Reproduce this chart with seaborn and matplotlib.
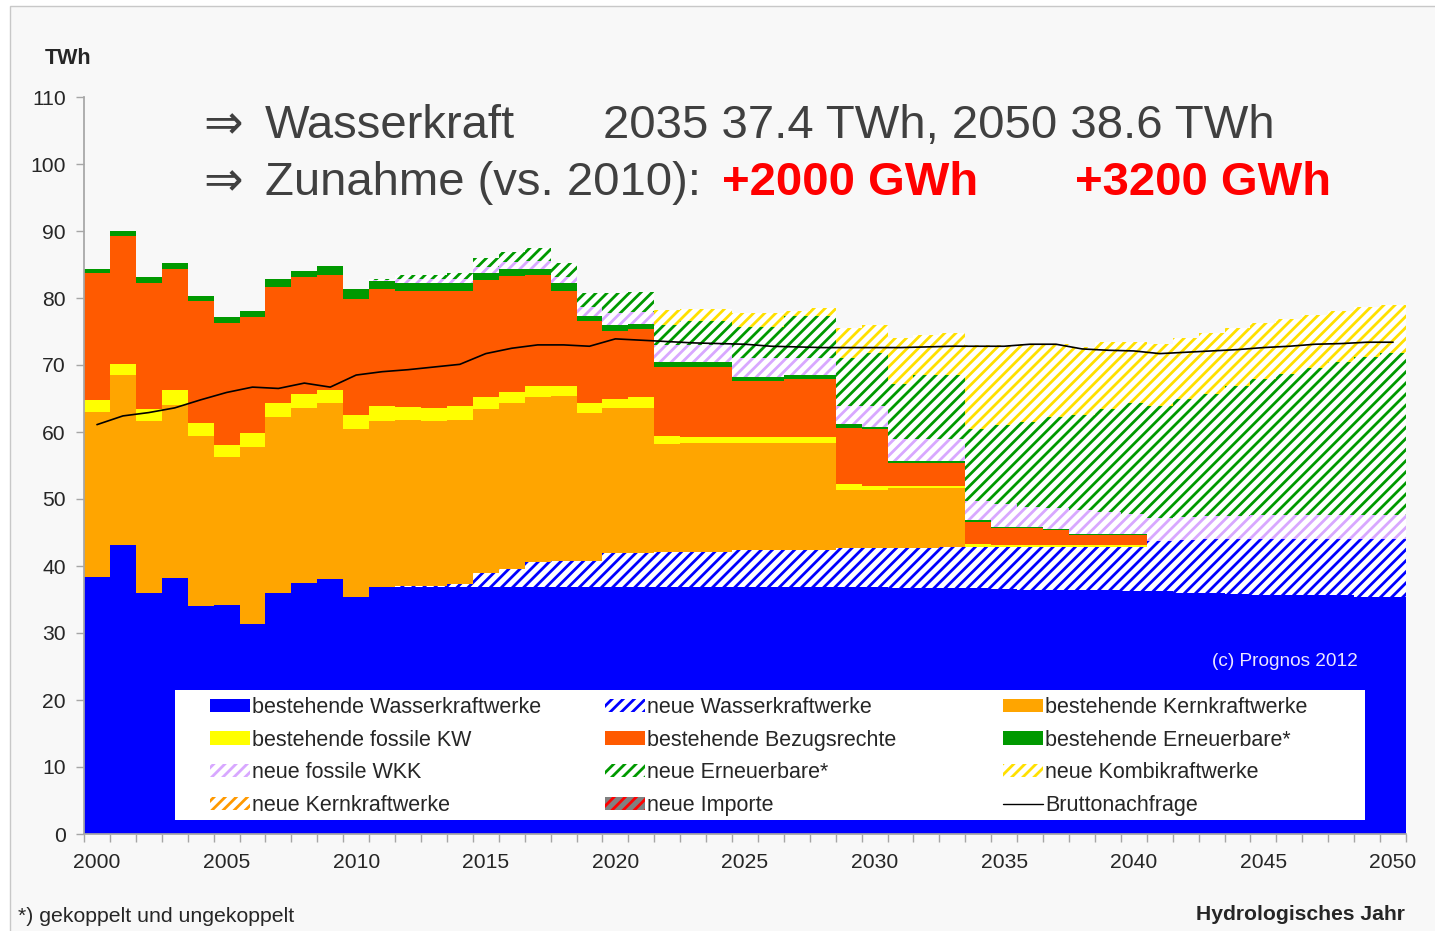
import numpy as np
import matplotlib
matplotlib.use("Agg")
import matplotlib.pyplot as plt
from matplotlib.patches import Patch, Rectangle
from matplotlib.lines import Line2D
from matplotlib.legend import Legend
import seaborn as sns

years = list(range(2000, 2051))

# TWh per hydrological year
best_wasser = [38.4, 43.2, 35.9, 38.2, 34.0, 34.2, 31.3, 35.9, 37.5, 38.1, 35.3,
               36.9, 36.9, 36.9, 36.9, 36.9, 36.9, 36.9, 36.9, 36.9, 36.9, 36.9, 36.9, 36.9, 36.9,
               36.8, 36.8, 36.8, 36.8, 36.8, 36.8,
               36.7, 36.7, 36.7, 36.7,
               36.5, 36.4, 36.4, 36.4, 36.4, 36.3,
               36.2, 35.9, 35.9, 35.8, 35.7, 35.7, 35.6, 35.6, 35.4, 35.4]
neue_wasser = [0, 0, 0, 0, 0, 0, 0, 0, 0, 0, 0, 0,
               0.1, 0.1, 0.4, 2.0, 2.7, 3.7, 3.9, 3.9, 5.0, 5.0, 5.2, 5.2, 5.2,
               5.6, 5.6, 5.6, 5.6, 5.9, 5.9, 6.0, 6.0, 6.2, 6.2,
               6.4, 6.5, 6.5, 6.5, 6.5, 6.6,
               7.6, 8.0, 8.1, 8.2, 8.3, 8.3, 8.4, 8.4, 8.6, 8.6]
best_kern = [24.6, 25.3, 25.8, 25.8, 25.4, 22.0, 26.4, 26.4, 26.1, 26.2, 25.2,
             24.8, 24.8, 24.6, 24.5, 24.5, 24.7, 24.6, 24.6, 22.0, 21.7, 21.7,
             16.1, 16.2, 16.2, 16.0, 16.0, 16.0, 16.0, 8.7, 8.7, 8.9, 8.9, 8.7,
             0, 0, 0, 0, 0, 0, 0, 0, 0, 0, 0, 0, 0, 0, 0, 0, 0]
best_fossil = [1.8, 1.7, 1.8, 2.3, 2.0, 1.9, 2.2, 2.0, 2.0, 2.0, 2.0,
               2.2, 1.9, 2.0, 2.1, 1.8, 1.7, 1.7, 1.5, 1.5, 1.3, 1.6,
               1.2, 1.0, 1.0, 0.9, 0.9, 0.9, 0.9, 0.8, 0.6, 0.4, 0.4, 0.4,
               0.4, 0.3, 0.3, 0.3, 0.2, 0.2, 0.2,
               0, 0, 0, 0, 0, 0, 0, 0, 0, 0]
best_bezug = [18.9, 19.0, 18.8, 18.0, 18.2, 18.2, 17.3, 17.4, 17.5, 17.1, 17.4,
              17.4, 17.3, 17.4, 17.1, 17.5, 17.3, 16.5, 14.2, 12.2, 10.2, 10.1,
              10.3, 10.4, 10.4, 8.3, 8.3, 8.6, 8.6, 8.4, 8.4, 3.4, 3.4, 3.4,
              3.2, 2.5, 2.5, 2.2, 1.6, 1.6, 1.6,
              0, 0, 0, 0, 0, 0, 0, 0, 0, 0]
best_ern = [0.6, 0.8, 0.9, 0.9, 0.7, 0.9, 0.9, 1.1, 1.0, 1.4, 1.4,
            1.2, 1.2, 1.2, 1.2, 1.0, 1.0, 1.0, 1.1, 0.8, 0.9, 0.8,
            0.8, 0.8, 0.8, 0.6, 0.6, 0.6, 0.6, 0.6, 0.4, 0.3, 0.3, 0.3,
            0.3, 0.1, 0.1, 0.1, 0.1, 0.1, 0.1,
            0, 0, 0, 0, 0, 0, 0, 0, 0, 0]
neue_wkk = [0, 0, 0, 0, 0, 0, 0, 0, 0, 0, 0,
            0.2, 0.6, 0.6, 0.6, 0.9, 1.0, 1.1, 1.0, 1.4, 1.8, 1.8,
            2.5, 2.5, 2.5, 2.8, 2.8, 2.5, 2.5, 2.7, 3.1, 3.2, 3.2, 3.2,
            2.9, 3.4, 3.0, 3.1, 3.5, 3.3, 3.0,
            3.4, 3.4, 3.4, 3.4, 3.6, 3.6, 3.6, 3.6, 3.6, 3.6]
neue_ern = [0, 0, 0, 0, 0, 0, 0, 0, 0, 0, 0,
            0.2, 0.6, 0.7, 1.0, 1.3, 1.6, 1.9, 2.0, 2.1, 2.9, 3.0,
            3.0, 3.5, 3.5, 4.7, 4.7, 6.3, 6.3, 7.1, 7.9, 8.3, 9.6, 9.6,
            10.8, 11.8, 12.7, 13.7, 14.3, 15.4, 16.5,
            16.7, 17.6, 18.3, 19.5, 20.3, 21.1, 21.9, 22.9, 23.6, 24.2]
neue_kombi = [0, 0, 0, 0, 0, 0, 0, 0, 0, 0, 0,
              0, 0, 0, 0, 0, 0, 0, 0, 0, 0, 0,
              2.2, 1.8, 1.8, 2.0, 2.0, 0.7, 1.2, 4.5, 4.1, 6.8, 6.0, 6.3,
              12.5, 12.0, 11.6, 10.8, 10.1, 10.0, 9.2,
              9.3, 9.2, 9.1, 8.6, 8.3, 8.1, 8.0, 7.5, 7.4, 7.2]
neue_kern = [0.0] * 51
neue_importe = [0.0] * 51
nachfrage = [61.1, 62.4, 62.9, 63.6, 64.8, 65.9, 66.7, 66.5, 67.3, 66.7, 68.5,
             69.0, 69.3, 69.7, 70.1, 71.7, 72.5, 73.0, 73.0, 72.8, 73.9, 73.7,
             73.5, 73.3, 73.2, 73.1, 72.8, 72.7, 72.6, 72.6, 72.6, 72.6, 72.7, 72.8,
             72.8, 72.8, 73.1, 73.1, 72.4, 72.2, 72.1,
             71.7, 71.9, 72.1, 72.3, 72.6, 72.8, 73.1, 73.2, 73.4, 73.4]

labels = ["bestehende Wasserkraftwerke", "neue Wasserkraftwerke", "bestehende Kernkraftwerke",
          "bestehende fossile KW", "bestehende Bezugsrechte", "bestehende Erneuerbare*",
          "neue fossile WKK", "neue Erneuerbare*", "neue Kombikraftwerke",
          "neue Kernkraftwerke", "neue Importe"]
series = [best_wasser, neue_wasser, best_kern, best_fossil, best_bezug, best_ern,
          neue_wkk, neue_ern, neue_kombi, neue_kern, neue_importe]
colors = ["#0000ff", "#0000ff", "#ffa500", "#ffff00", "#ff5a00", "#009900",
          "#d8a8ff", "#009900", "#ffe000", "#ff9900", "#ff0000"]
faces = ["#0000ff", "white", "#ffa500", "#ffff00", "#ff5a00", "#009900",
         "white", "white", "white", "white", "#808080"]
hatched = [False, True, False, False, False, False, True, True, True, True, True]

W, H = 1435, 931


def fx(x):
    return x / W


def fy(y):
    return 1 - y / H


sns.set_theme(style="ticks")
plt.rcParams["font.family"] = ["Liberation Sans", "DejaVu Sans"]
plt.rcParams["hatch.linewidth"] = 2.0

fig = plt.figure(figsize=(W / 100, H / 100), dpi=100, facecolor="white")
fig.add_artist(Rectangle((fx(10), -0.1), 1.2, fy(6) + 0.1, transform=fig.transFigure,
                         facecolor="#f8f8f8", edgecolor="#c8c8c8", lw=1, zorder=-10))
ax = fig.add_axes([fx(84), fy(834), fx(1406) - fx(84), fy(97) - fy(834)])
ax.set_facecolor("none")

# stacked bars: draw cumulative totals from the top layer down
tops = np.cumsum(np.array(series, dtype=float), axis=0)
for i in reversed(range(len(series))):
    sns.barplot(x=years, y=tops[i], orient="x", native_scale=True, width=1,
                errorbar=None, color=faces[i], saturation=1, ax=ax)
    for bar in ax.containers[-1]:
        bar.set_facecolor(faces[i])
        bar.set_edgecolor(colors[i])
        bar.set_linewidth(0)
        bar.set_antialiased(False)
        if hatched[i]:
            bar.set_hatch("///")

sns.lineplot(x=years, y=nachfrage, color="black", linewidth=1.2, ax=ax, zorder=3)

ax.set_xlim(1999.5, 2050.5)
ax.set_ylim(0, 110)
ax.set_yticks(range(0, 111, 10))
ax.set_xticks(range(2000, 2051, 5))
ax.set_xticks(np.arange(1999.5, 2051, 1), minor=True)
ax.tick_params(axis="x", which="major", length=0, pad=13.5, labelsize=15.2)
ax.tick_params(axis="x", which="minor", length=6, color="#a6a6a6", width=1)
ax.tick_params(axis="y", length=6, color="#a6a6a6", width=1, pad=7, labelsize=15.2)
for s in ["top", "right"]:
    ax.spines[s].set_visible(False)
ax.spines["left"].set_color("#a6a6a6")
ax.spines["bottom"].set_color("#a6a6a6")
ax.set_xlabel("")
ax.set_ylabel("")

# legend box
ax.add_patch(Rectangle((fx(175), fy(820)), fx(1365) - fx(175), fy(690) - fy(820),
                       transform=fig.transFigure, facecolor="white", edgecolor="none", zorder=5))
handles = []
for i in range(len(series)):
    if hatched[i]:
        handles.append(Patch(facecolor=faces[i], edgecolor=colors[i], hatch="///", linewidth=0))
    else:
        handles.append(Patch(facecolor=colors[i], linewidth=0))
handles.append(Line2D([], [], color="black", lw=1))
all_labels = labels + ["Bruttonachfrage"]
for k, x0 in enumerate([210, 605, 1003]):
    idx = [k, k + 3, k + 6, k + 9]
    leg = Legend(ax, [handles[j] for j in idx], [all_labels[j] for j in idx],
                 loc="upper left", bbox_to_anchor=(fx(x0), fy(697)), bbox_transform=fig.transFigure,
                 frameon=False, borderpad=0, borderaxespad=0, fontsize=15.5,
                 handlelength=1.86, handleheight=0.56, handletextpad=0.1, labelspacing=0.54)
    leg.set_zorder(6)
    ax.add_artist(leg)

ax.text(fx(1285), fy(661), "(c) Prognos 2012", transform=fig.transFigure, ha="center", va="center",
        fontsize=13.7, color="#ebe6ff", zorder=6)

# headline texts
gray = "#404040"
fig.text(fx(203), fy(138), "\u21d2", fontsize=34, color=gray)
fig.text(fx(265), fy(138), "Wasserkraft", fontsize=34, color=gray)
fig.text(fx(603), fy(138), "2035 37.4 TWh, 2050 38.6 TWh", fontsize=34, color=gray)
fig.text(fx(203), fy(195), "\u21d2", fontsize=34, color=gray)
fig.text(fx(265), fy(195), "Zunahme (vs. 2010):", fontsize=34, color=gray)
fig.text(fx(722), fy(195), "+2000 GWh", fontsize=34, color="#ff0000", fontweight="bold")
fig.text(fx(1075), fy(195), "+3200 GWh", fontsize=34, color="#ff0000", fontweight="bold")

fig.text(fx(68), fy(58), "TWh", fontsize=15.5, fontweight="bold", ha="center", va="center")
fig.text(fx(1405), fy(915), "Hydrologisches Jahr", fontsize=15.2, fontweight="bold", ha="right", va="center")
fig.text(fx(18), fy(916), "*) gekoppelt und ungekoppelt", fontsize=15.3, ha="left", va="center")

fig.savefig("out.png", dpi=100, facecolor=fig.get_facecolor())
